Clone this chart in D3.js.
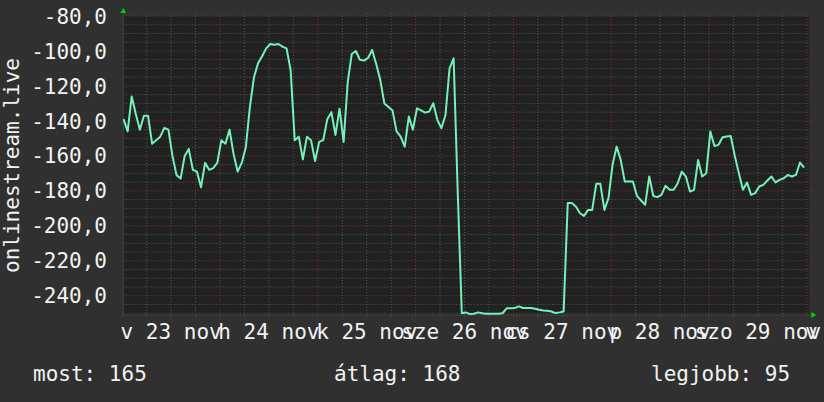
<!DOCTYPE html>
<html>
<head>
<meta charset="utf-8">
<script src="https://cdn.jsdelivr.net/npm/d3@7"></script>
<style>
	body { margin: 0; background: #303030; }
	svg { display: block; }
	text { font-family: "DejaVu Sans Mono", monospace; font-size: 21px; fill: #f2f2f2; }
</style>
</head>
<body>
<svg id="graph" width="824" height="402"></svg>
<script>

// data, one value per hour starting 23 nov 00:20 (UTC used everywhere)
const series_label = "onlinestream.live";
const data_start = Date.UTC(2025, 10, 23, 0, 20);
const step_hours = 1;
const signal_values = [
	-139, -146, -126, -136, -145, -137, -137, -153, -151, -149, -144, -145,
	-160, -171, -173, -160, -156, -168, -169, -178, -164, -168, -167, -164,
	-151, -153, -145, -159, -169, -164, -155, -132, -115, -107, -103, -98.5,
	-96, -96.4, -96, -97.5, -98.5, -111, -151, -149, -162, -149, -151, -163,
	-152, -151, -139, -135, -148, -133, -152, -118, -101.7, -100, -105, -105.5,
	-104, -99.4, -107.4, -116.6, -130, -132, -134, -146, -149, -154.7, -137.5, -145,
	-132.8, -134, -135.2, -134.7, -129.9, -139.4, -144.2, -136.6, -109.9, -104.2, -180.4, -250,
	-249.5, -250.5, -250.3, -249.5, -250, -250.3, -250.3, -250.3, -250.3, -250, -247.2, -247.2,
	-247, -246.1, -247, -247, -247, -247.4, -248, -248.4, -248.6, -249, -249.9, -249.5,
	-249, -187, -187, -189, -192.8, -194.3, -190.9, -190.9, -176, -176, -190.9, -184.2,
	-165.1, -154.7, -162.3, -174.7, -174.7, -174.7, -182.9, -185.5, -188, -171.8, -182.9, -183.6,
	-182.3, -177.1, -179.4, -179.4, -175.6, -169, -171.8, -180.4, -179.4, -162.3, -171.8, -169.9,
	-146, -154.3, -153.7, -149.3, -148.9, -148.6, -160, -169.9, -179.4, -175.2, -182.3, -181.3,
	-177.5, -176.6, -174.1, -171.8, -175.2, -173.7, -172.8, -170.9, -171.8, -170.9, -163.8, -166.7
];

// hungarian weekday abbreviations, sunday first
const day_names = ["v", "h", "k", "sze", "cs", "p", "szo"];
const month_name = "nov";
const y_tick_values = [-80, -100, -120, -140, -160, -180, -200, -220, -240];
const legend_labels = ["most", "átlag", "legjobb"];
const legend_values = [165, 168, 95];

const svg = d3.select('#graph');

// plot box
const plot_left = 123.3, plot_right = 809.3, plot_top = 16, plot_bottom = 315;

const x = d3.scaleUtc()
	.domain([Date.UTC(2025, 10, 23, 0, 16), Date.UTC(2025, 10, 30, 0, 37)])
	.range([plot_left, plot_right]);

const y = d3.scaleLinear()
	.domain([-251, -80])
	.range([plot_bottom, plot_top]);

const points = signal_values.map((v, i) => ({ t: new Date(data_start + i * step_hours * 3600e3), v: v }));

svg.append('rect')
	.attr('x', plot_left).attr('y', plot_top)
	.attr('width', plot_right - plot_left).attr('height', plot_bottom - plot_top)
	.attr('fill', '#212121');

const grid = svg.append('g');

// minor grid: every 5 units, every 6 hours
const minor_y = d3.range(-250, -79, 5).filter(v => v % 20 != 0);
grid.selectAll('.ygrid')
	.data(minor_y)
	.enter()
	.append('line')
	.attr('x1', plot_left).attr('x2', plot_right)
	.attr('y1', d => y(d)).attr('y2', d => y(d))
	.attr('stroke', '#575757')
	.attr('stroke-dasharray', '1,2');

const minor_x = d3.utcHour.every(6).range(x.domain()[0], x.domain()[1]).filter(d => d.getUTCHours() != 0);
grid.selectAll('.xgrid')
	.data(minor_x)
	.enter()
	.append('line')
	.attr('x1', d => x(d)).attr('x2', d => x(d))
	.attr('y1', plot_top - 3).attr('y2', plot_bottom + 2)
	.attr('stroke', '#575757')
	.attr('stroke-dasharray', '1,2');

// major grid (red)
grid.selectAll('.ymajor')
	.data(y_tick_values)
	.enter()
	.append('line')
	.attr('x1', plot_left).attr('x2', plot_right + 2)
	.attr('y1', d => y(d)).attr('y2', d => y(d))
	.attr('stroke', '#853434')
	.attr('stroke-dasharray', '1,2');

const midnights = d3.utcDay.range(x.domain()[0], x.domain()[1]);
grid.selectAll('.xmajor')
	.data(midnights)
	.enter()
	.append('line')
	.attr('x1', d => x(d)).attr('x2', d => x(d))
	.attr('y1', plot_top - 3).attr('y2', plot_bottom + 3)
	.attr('stroke', '#853434')
	.attr('stroke-dasharray', '1,2');

// axes
svg.append('line')
	.attr('x1', plot_left - 1).attr('x2', plot_right + 2)
	.attr('y1', plot_bottom).attr('y2', plot_bottom)
	.attr('stroke', '#444');
svg.append('line')
	.attr('x1', plot_left).attr('x2', plot_left)
	.attr('y1', plot_top - 4).attr('y2', plot_bottom + 2)
	.attr('stroke', '#444');
svg.append('path')
	.attr('d', `M${plot_left - 3},${plot_top - 3}L${plot_left + 3},${plot_top - 3}L${plot_left},${plot_top - 8}Z`)
	.attr('fill', '#00d000');
svg.append('path')
	.attr('d', `M${plot_right + 2},${plot_bottom - 3}L${plot_right + 2},${plot_bottom + 3}L${plot_right + 7},${plot_bottom}Z`)
	.attr('fill', '#00d000');

// the series
const line = d3.line()
	.x(d => x(d.t))
	.y(d => y(d.v));

svg.append('path')
	.datum(points)
	.attr('d', line)
	.attr('fill', 'none')
	.attr('stroke', '#74f2b9')
	.attr('stroke-width', 2)
	.attr('stroke-linejoin', 'round');

// y labels, comma as decimal separator
svg.selectAll('.ylabel')
	.data(y_tick_values)
	.enter()
	.append('text')
	.attr('x', 107)
	.attr('y', d => y(d) + 7.6)
	.attr('text-anchor', 'end')
	.text(d => d.toFixed(1).replace('.', ','));

// x labels at noon of each day (first day starts before the plot)
const label_days = d3.utcDay.range(d3.utcDay.floor(x.domain()[0]), x.domain()[1]);
svg.selectAll('.xlabel')
	.data(label_days)
	.enter()
	.append('text')
	.attr('x', d => x(d3.utcHour.offset(d, 12)))
	.attr('y', 339)
	.attr('text-anchor', 'middle')
	.text(d => day_names[d.getUTCDay()] + ' ' + d.getUTCDate() + ' ' + month_name);

svg.append('text')
	.attr('transform', `translate(19,${(plot_top + plot_bottom) / 2}) rotate(-90)`)
	.attr('text-anchor', 'middle')
	.text(series_label);

// legend line
const legend_x = [33, 334, 651];
svg.selectAll('.legend')
	.data(legend_labels)
	.enter()
	.append('text')
	.attr('x', (d, i) => legend_x[i])
	.attr('y', 381)
	.text((d, i) => d + ': ' + legend_values[i]);

</script>
</body>
</html>
